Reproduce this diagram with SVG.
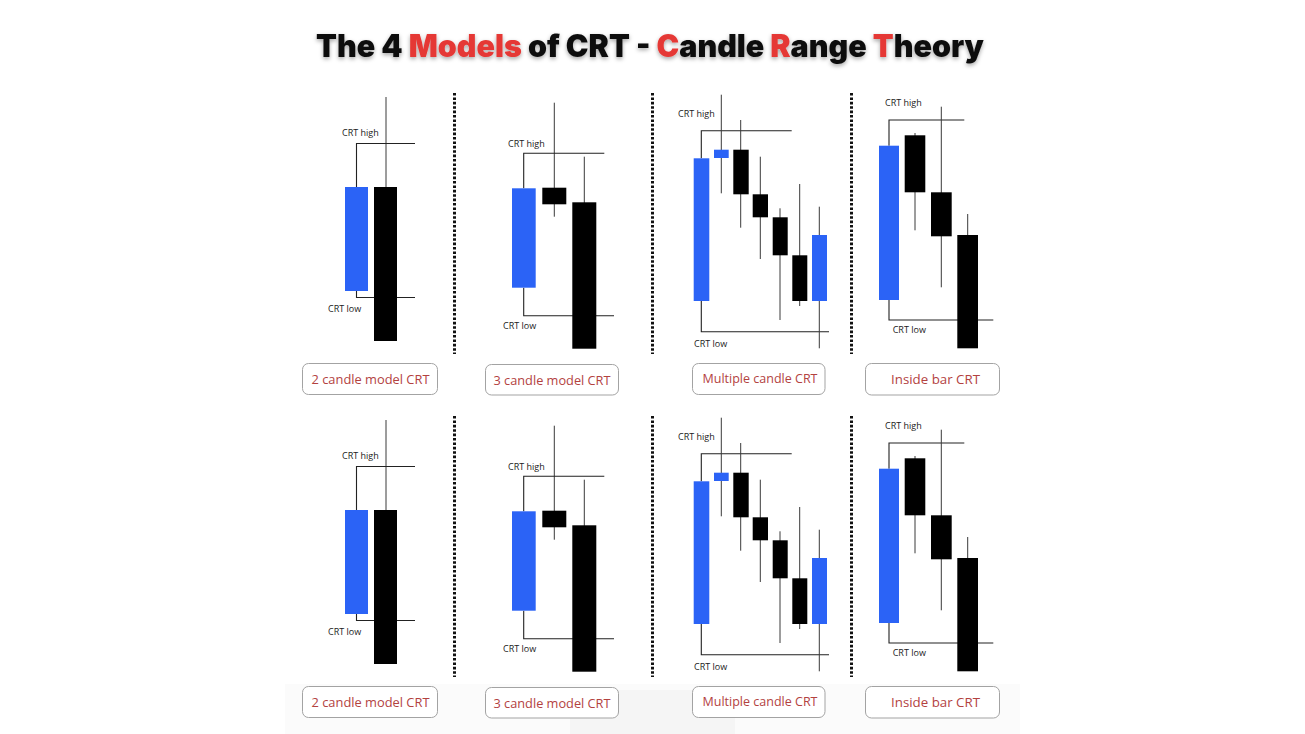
<svg xmlns="http://www.w3.org/2000/svg" width="1305" height="734" viewBox="0 0 1305 734">
<defs>
<filter id="shadow" x="-5%" y="-30%" width="110%" height="170%">
<feDropShadow dx="0" dy="2" stdDeviation="2" flood-color="#000" flood-opacity="0.35"/>
</filter>
<style>
.bull{fill:#2b63f6}
.bear{fill:#000}
.wick{stroke:#3a3a3a;stroke-width:1;fill:none}
.lvl{stroke:#222;stroke-width:1.1;fill:none}
.lbl{font-family:"Open Sans","Liberation Sans",sans-serif;font-size:9px;font-weight:500;fill:#222}
.sep{stroke:#111;stroke-width:3;stroke-dasharray:2.6 1.8;fill:none}
.box{fill:#fff;stroke:#a3a3a3;stroke-width:1}
.cap{font-family:"Open Sans","Liberation Sans",sans-serif;font-size:12.5px;font-weight:500;fill:#b3423f;text-anchor:middle}
.title{font-family:Inter,"Liberation Sans",sans-serif;font-weight:900;font-size:31px;fill:#111}
.red{fill:#e53935}
</style>
</defs>
<rect width="1305" height="734" fill="#fff"/>
<rect x="285" y="684" width="735" height="50" fill="#fbfbfb"/>
<rect x="570" y="690" width="165" height="44" fill="#f5f5f5"/>

<g id="title" filter="url(#shadow)">
<text class="title" x="316" y="57" textLength="668" lengthAdjust="spacingAndGlyphs">The 4 <tspan class="red">Models</tspan> of CRT - <tspan class="red">C</tspan>andle <tspan class="red">R</tspan>ange <tspan class="red">T</tspan>heory</text>
</g>

<g id="separators">
<line class="sep" x1="454.5" y1="93" x2="454.5" y2="354"/>
<line class="sep" x1="652.5" y1="93" x2="652.5" y2="354"/>
<line class="sep" x1="851.5" y1="93" x2="851.5" y2="354"/>
<line class="sep" x1="454.5" y1="416" x2="454.5" y2="677"/>
<line class="sep" x1="652.5" y1="416" x2="652.5" y2="677"/>
<line class="sep" x1="851.5" y1="416" x2="851.5" y2="677"/>
</g>

<g id="row-top">
<g id="two-candle-top">
<line class="wick" x1="386" y1="97" x2="386" y2="187"/>
<path class="lvl" d="M356.5,187 V143.5 H415"/>
<path class="lvl" d="M356.5,291 V297.5 H415"/>
<rect class="bull" x="345" y="187" width="23" height="104"/>
<rect class="bear" x="374" y="187" width="23" height="154"/>
<text class="lbl" x="342" y="136">CRT high</text>
<text class="lbl" x="328" y="312">CRT low</text>
</g>
<g id="three-candle-top">
<line class="wick" x1="554.3" y1="102.7" x2="554.3" y2="216.7"/>
<line class="wick" x1="584.3" y1="156.7" x2="584.3" y2="203"/>
<path class="lvl" d="M523.7,188.3 V153.3 H604.3"/>
<path class="lvl" d="M523.7,287.7 V315.7 H614"/>
<rect class="bull" x="512" y="188.3" width="23.7" height="99.4"/>
<rect class="bear" x="542.3" y="187.7" width="24" height="16.6"/>
<rect class="bear" x="572.3" y="202.3" width="24" height="146.4"/>
<text class="lbl" x="508" y="147">CRT high</text>
<text class="lbl" x="503" y="329">CRT low</text>
</g>
<g id="multiple-candle-top">
<path class="lvl" d="M701.3,158.3 V130.7 H791.7"/>
<path class="lvl" d="M701.3,301 V331.7 H829"/>
<line class="wick" x1="721.3" y1="94.7" x2="721.3" y2="193.3"/>
<line class="wick" x1="740.7" y1="120" x2="740.7" y2="227.7"/>
<line class="wick" x1="760.3" y1="156.7" x2="760.3" y2="259"/>
<line class="wick" x1="780" y1="208.3" x2="780" y2="320"/>
<line class="wick" x1="799.7" y1="184" x2="799.7" y2="306"/>
<line class="wick" x1="819.3" y1="206.7" x2="819.3" y2="348.3"/>
<rect class="bull" x="693.7" y="158.3" width="15.6" height="142.7"/>
<rect class="bull" x="714" y="149.7" width="14.7" height="8.3"/>
<rect class="bear" x="733.3" y="149.7" width="15.4" height="44.6"/>
<rect class="bear" x="752.7" y="194.3" width="15.3" height="23"/>
<rect class="bear" x="772.7" y="217.3" width="15" height="38"/>
<rect class="bear" x="792.3" y="255.3" width="15" height="45.7"/>
<rect class="bull" x="812" y="235" width="15" height="66"/>
<text class="lbl" x="678" y="117">CRT high</text>
<text class="lbl" x="694" y="346.7">CRT low</text>
</g>
<g id="inside-bar-top">
<path class="lvl" d="M889,145.7 V120 H964.3"/>
<path class="lvl" d="M889,300 V320 H993.3"/>
<line class="wick" x1="915" y1="133" x2="915" y2="230.3"/>
<line class="wick" x1="941.3" y1="106.7" x2="941.3" y2="287.3"/>
<line class="wick" x1="967.7" y1="214" x2="967.7" y2="235"/>
<rect class="bull" x="879" y="145.7" width="20" height="154.3"/>
<rect class="bear" x="904.7" y="135.3" width="20.6" height="57"/>
<rect class="bear" x="931" y="192.3" width="20.7" height="44"/>
<rect class="bear" x="957.3" y="235" width="20.7" height="113.3"/>
<text class="lbl" x="885" y="106">CRT high</text>
<text class="lbl" x="892.7" y="333.3">CRT low</text>
</g>
<g id="label-2-candle-top">
<rect class="box" x="302.5" y="363.5" width="135" height="31" rx="6"/>
<text class="cap" x="370.5" y="384" textLength="118" lengthAdjust="spacingAndGlyphs">2 candle model CRT</text>
</g>
<g id="label-3-candle-top">
<rect class="box" x="485.5" y="364.5" width="133" height="30.5" rx="6"/>
<text class="cap" x="552" y="384.5" textLength="117" lengthAdjust="spacingAndGlyphs">3 candle model CRT</text>
</g>
<g id="label-multiple-top">
<rect class="box" x="692.5" y="363.5" width="132.5" height="31" rx="6"/>
<text class="cap" x="760" y="383" textLength="115" lengthAdjust="spacingAndGlyphs">Multiple candle CRT</text>
</g>
<g id="label-inside-top">
<rect class="box" x="865.5" y="363.5" width="134" height="31.5" rx="6"/>
<text class="cap" x="935.5" y="383.5" textLength="89" lengthAdjust="spacingAndGlyphs">Inside bar CRT</text>
</g>
</g>

<g id="row-bottom" transform="translate(0,323)">
<g id="two-candle-bottom">
<line class="wick" x1="386" y1="97" x2="386" y2="187"/>
<path class="lvl" d="M356.5,187 V143.5 H415"/>
<path class="lvl" d="M356.5,291 V297.5 H415"/>
<rect class="bull" x="345" y="187" width="23" height="104"/>
<rect class="bear" x="374" y="187" width="23" height="154"/>
<text class="lbl" x="342" y="136">CRT high</text>
<text class="lbl" x="328" y="312">CRT low</text>
</g>
<g id="three-candle-bottom">
<line class="wick" x1="554.3" y1="102.7" x2="554.3" y2="216.7"/>
<line class="wick" x1="584.3" y1="156.7" x2="584.3" y2="203"/>
<path class="lvl" d="M523.7,188.3 V153.3 H604.3"/>
<path class="lvl" d="M523.7,287.7 V315.7 H614"/>
<rect class="bull" x="512" y="188.3" width="23.7" height="99.4"/>
<rect class="bear" x="542.3" y="187.7" width="24" height="16.6"/>
<rect class="bear" x="572.3" y="202.3" width="24" height="146.4"/>
<text class="lbl" x="508" y="147">CRT high</text>
<text class="lbl" x="503" y="329">CRT low</text>
</g>
<g id="multiple-candle-bottom">
<path class="lvl" d="M701.3,158.3 V130.7 H791.7"/>
<path class="lvl" d="M701.3,301 V331.7 H829"/>
<line class="wick" x1="721.3" y1="94.7" x2="721.3" y2="193.3"/>
<line class="wick" x1="740.7" y1="120" x2="740.7" y2="227.7"/>
<line class="wick" x1="760.3" y1="156.7" x2="760.3" y2="259"/>
<line class="wick" x1="780" y1="208.3" x2="780" y2="320"/>
<line class="wick" x1="799.7" y1="184" x2="799.7" y2="306"/>
<line class="wick" x1="819.3" y1="206.7" x2="819.3" y2="348.3"/>
<rect class="bull" x="693.7" y="158.3" width="15.6" height="142.7"/>
<rect class="bull" x="714" y="149.7" width="14.7" height="8.3"/>
<rect class="bear" x="733.3" y="149.7" width="15.4" height="44.6"/>
<rect class="bear" x="752.7" y="194.3" width="15.3" height="23"/>
<rect class="bear" x="772.7" y="217.3" width="15" height="38"/>
<rect class="bear" x="792.3" y="255.3" width="15" height="45.7"/>
<rect class="bull" x="812" y="235" width="15" height="66"/>
<text class="lbl" x="678" y="117">CRT high</text>
<text class="lbl" x="694" y="346.7">CRT low</text>
</g>
<g id="inside-bar-bottom">
<path class="lvl" d="M889,145.7 V120 H964.3"/>
<path class="lvl" d="M889,300 V320 H993.3"/>
<line class="wick" x1="915" y1="133" x2="915" y2="230.3"/>
<line class="wick" x1="941.3" y1="106.7" x2="941.3" y2="287.3"/>
<line class="wick" x1="967.7" y1="214" x2="967.7" y2="235"/>
<rect class="bull" x="879" y="145.7" width="20" height="154.3"/>
<rect class="bear" x="904.7" y="135.3" width="20.6" height="57"/>
<rect class="bear" x="931" y="192.3" width="20.7" height="44"/>
<rect class="bear" x="957.3" y="235" width="20.7" height="113.3"/>
<text class="lbl" x="885" y="106">CRT high</text>
<text class="lbl" x="892.7" y="333.3">CRT low</text>
</g>
<g id="label-2-candle-bottom">
<rect class="box" x="302.5" y="363.5" width="135" height="31" rx="6"/>
<text class="cap" x="370.5" y="384" textLength="118" lengthAdjust="spacingAndGlyphs">2 candle model CRT</text>
</g>
<g id="label-3-candle-bottom">
<rect class="box" x="485.5" y="364.5" width="133" height="30.5" rx="6"/>
<text class="cap" x="552" y="384.5" textLength="117" lengthAdjust="spacingAndGlyphs">3 candle model CRT</text>
</g>
<g id="label-multiple-bottom">
<rect class="box" x="692.5" y="363.5" width="132.5" height="31" rx="6"/>
<text class="cap" x="760" y="383" textLength="115" lengthAdjust="spacingAndGlyphs">Multiple candle CRT</text>
</g>
<g id="label-inside-bottom">
<rect class="box" x="865.5" y="363.5" width="134" height="31.5" rx="6"/>
<text class="cap" x="935.5" y="383.5" textLength="89" lengthAdjust="spacingAndGlyphs">Inside bar CRT</text>
</g>
</g>
</svg>
